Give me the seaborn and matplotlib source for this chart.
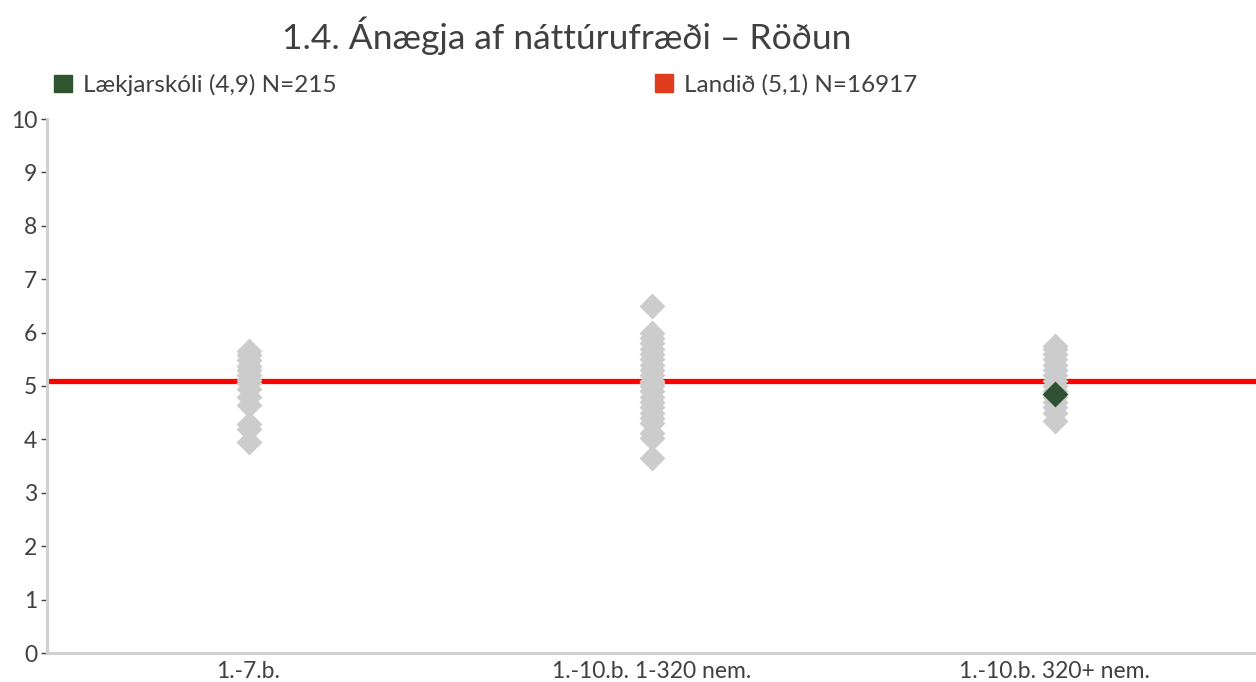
import pandas as pd
import seaborn as sns
import matplotlib.pyplot as plt
from matplotlib.patches import Patch

# flokkar og gildi (lesin af myndinni)
flokkar = ['1.-7.b.', '1.-10.b. 1-320 nem.', '1.-10.b. 320+ nem.']
gildi_17 = [3.95, 4.2, 4.28, 4.65, 4.8, 4.95, 5.05, 5.12, 5.2, 5.3, 5.38, 5.48, 5.58, 5.65]
gildi_1320 = [3.65, 4.02, 4.12, 4.3, 4.4, 4.5, 4.6, 4.7, 4.8, 4.9, 5.0, 5.05, 5.1,
              5.2, 5.3, 5.4, 5.5, 5.6, 5.7, 5.8, 5.9, 6.0, 6.5]
gildi_320p = [4.35, 4.5, 4.6, 4.7, 4.8, 4.9, 5.0, 5.1, 5.2, 5.3, 5.4, 5.5, 5.6, 5.7, 5.75]
skoli_flokkur = '1.-10.b. 320+ nem.'
skoli_gildi = 4.85
landid = 5.1

titill = '1.4. Ánægja af náttúrufræði – Röðun'
skoli_heiti = 'Lækjarskóli (4,9) N=215'
landid_heiti = 'Landið (5,1) N=16917'

textalitur = '#404040'
plt.rcParams['font.family'] = ['Lato', 'DejaVu Sans']

rows = []
for f, vals in zip(flokkar, [gildi_17, gildi_1320, gildi_320p]):
    rows += [(f, v) for v in vals]
df = pd.DataFrame(rows, columns=['flokkur', 'gildi'])
df_skoli = pd.DataFrame({'flokkur': [skoli_flokkur], 'gildi': [skoli_gildi]})

fig = plt.figure(figsize=(12.56, 6.82), dpi=100)
ax = fig.add_axes([47 / 1256, 1 - 653 / 682, 1 - 47 / 1256, (653 - 119) / 682])

ax.axhline(landid, color='#FF0000', lw=3.8, zorder=1)
sns.stripplot(data=df, x='flokkur', y='gildi', order=flokkar, jitter=False,
              marker='D', s=13.2, color='#CCCCCC', linewidth=0, ax=ax, zorder=2)
sns.stripplot(data=df_skoli, x='flokkur', y='gildi', order=flokkar, jitter=False,
              marker='D', s=13.2, color='#2F5233', linewidth=0, ax=ax, zorder=3)

ax.set_xlim(-0.5, 2.5)
ax.set_ylim(0, 10)
ax.set_yticks(range(0, 11))
ax.set_xlabel('')
ax.set_ylabel('')
for s in ['top', 'right']:
    ax.spines[s].set_visible(False)
for s in ['left', 'bottom']:
    ax.spines[s].set_color('#D0D0D0')
    ax.spines[s].set_linewidth(2.2)
ax.tick_params(axis='y', length=4, width=1, color=textalitur, labelcolor=textalitur,
               labelsize=16.5, pad=3)
ax.tick_params(axis='x', length=0, labelcolor=textalitur, labelsize=16.5, pad=6)

fig.text(567 / 1256, 1 - 36 / 682, titill, ha='center', va='center', fontsize=25.5,
         color=textalitur)

leg_args = dict(frameon=False, fontsize=17.5, handlelength=0.75, handleheight=0.75,
                handletextpad=0.45, borderaxespad=0, borderpad=0, labelcolor=textalitur)
fig.legend(handles=[Patch(color='#2E5530', label=skoli_heiti)], loc='center left',
           bbox_to_anchor=(54 / 1256, 1 - 85 / 682), **leg_args)
fig.legend(handles=[Patch(color='#E03C1E', label=landid_heiti)], loc='center left',
           bbox_to_anchor=(655 / 1256, 1 - 85 / 682), **leg_args)

fig.savefig('out.png', dpi=100)
plt.close(fig)
